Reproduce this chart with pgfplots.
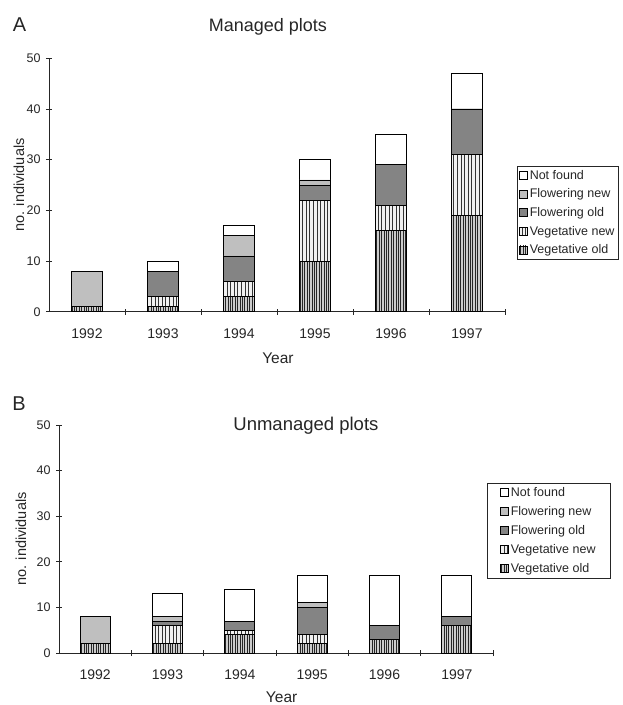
\documentclass[border=0pt]{standalone}
\usepackage{fontspec}
\setmainfont{Liberation Sans}
\usepackage{pgfplots}
\pgfplotsset{compat=1.18}
\usetikzlibrary{patterns,patterns.meta}

\pgfplotstableread{
x vegold vegnew flold flnew notfound
1 1 0 0 7 0
2 1 2 5 0 2
3 3 3 5 4 2
4 10 12 3 1 4
5 16 5 8 0 6
6 19 12 9 0 7
}\managed

\pgfplotstableread{
x vegold vegnew flold flnew notfound
1 2 0 0 6 0
2 2 4 1 1 5
3 4 1 2 0 7
4 2 2 6 1 6
5 3 0 3 0 11
6 6 0 2 0 9
}\unmanaged

\definecolor{ink}{gray}{0.15}

\pgfplotsset{
  panel/.style={
    scale only axis,
    xmin=0.5, xmax=6.5, ymin=0, ymax=50,
    enlargelimits=false,
    axis x line=bottom, axis y line=left,
    axis line style={-, ink, line width=0.8pt},
    ybar stacked,
    ytick={0,10,...,50},
    xtick={1.5,2.5,...,6.5},
    xticklabels={},
    extra x ticks={1,2,3,4,5,6},
    extra x tick labels={1992,1993,1994,1995,1996,1997},
    extra x tick style={major tick length=0pt, tick label style={font=\fontsize{14}{16}\selectfont, yshift=-13pt}},
    tick align=center,
    major tick length=6pt,
    tick style={ink, line width=0.8pt},
    yticklabel style={font=\fontsize{12.5}{14}\selectfont, xshift=-2pt},
    /pgf/number format/assume math mode=true,
    every axis label/.append style={ink},
    ticklabel style={ink},
    reverse legend,
    legend cell align=left,
    every axis plot/.append style={draw=black, line width=0.8pt,
      legend image code/.code={\draw[##1, line width=0.6pt] (0pt,-4pt) rectangle (8pt,4pt);}},
    legend style={draw=ink, line width=0.6pt, font=\fontsize{12.5}{14}\selectfont, text=ink,
      row sep=4pt, anchor=north west},
  },
  vegold/.style={fill=gray!40, postaction={pattern={Lines[angle=90,distance=2.4pt,line width=0.8pt]}, pattern color=black!85}},
  vegnew/.style={fill=gray!12, postaction={pattern={Lines[angle=90,distance=3.6pt,line width=0.6pt]}, pattern color=black!80}},
  flold/.style={fill=gray!65, postaction={pattern={Dots[distance=2pt,radius=0.6pt]}, pattern color=black}},
  flnew/.style={fill=gray!50},
  notfound/.style={fill=white},
}

\begin{document}
\begin{tikzpicture}[x=1pt,y=1pt]
\useasboundingbox (0,0) rectangle (623,705);
\node[font=\fontsize{20}{22}\selectfont, text=ink] at (19.5,680) {A};
\node[font=\fontsize{20}{22}\selectfont, text=ink] at (19,301) {B};

\begin{axis}[panel,
  at={(49pt,393.3pt)}, anchor=south west,
  width=456pt, height=253.4pt,
  bar width=31pt,
  title={Managed plots},
  title style={at={(axis description cs:0.48,1.10)}, anchor=center, font=\fontsize{18}{20}\selectfont, text=ink},
  ylabel={no. individuals},
  ylabel style={at={(axis description cs:-0.066,0.5)}, anchor=center, font=\fontsize{14.5}{16}\selectfont},
  xlabel={Year},
  xlabel style={at={(axis description cs:0.502,-0.183)}, anchor=center, font=\fontsize{15.5}{17}\selectfont},
  legend style={at={(1.026,0.575)}, inner xsep=2pt},
]
\addplot[vegold] table[x=x,y=vegold] {\managed};
\addplot[vegnew] table[x=x,y=vegnew] {\managed};
\addplot[flold] table[x=x,y=flold] {\managed};
\addplot[flnew] table[x=x,y=flnew] {\managed};
\addplot[notfound] table[x=x,y=notfound] {\managed};
\legend{Vegetative old,Vegetative new,Flowering old,Flowering new,Not found}
\end{axis}

\begin{axis}[panel,
  at={(59pt,52pt)}, anchor=south west,
  width=434pt, height=228pt,
  bar width=30pt,
  title={Unmanaged plots},
  title style={at={(axis description cs:0.569,0.97)}, anchor=center, font=\fontsize{18.5}{20}\selectfont, text=ink},
  ylabel={no. individuals},
  ylabel style={at={(axis description cs:-0.0876,0.5)}, anchor=center, font=\fontsize{14.5}{16}\selectfont},
  xlabel={Year},
  xlabel style={at={(axis description cs:0.513,-0.193)}, anchor=center, font=\fontsize{15.5}{17}\selectfont},
  legend style={at={(0.986,0.746)}, inner xsep=13pt, row sep=4.5pt},
]
\addplot[vegold] table[x=x,y=vegold] {\unmanaged};
\addplot[vegnew] table[x=x,y=vegnew] {\unmanaged};
\addplot[flold] table[x=x,y=flold] {\unmanaged};
\addplot[flnew] table[x=x,y=flnew] {\unmanaged};
\addplot[notfound] table[x=x,y=notfound] {\unmanaged};
\legend{Vegetative old,Vegetative new,Flowering old,Flowering new,Not found}
\end{axis}
\end{tikzpicture}
\end{document}
